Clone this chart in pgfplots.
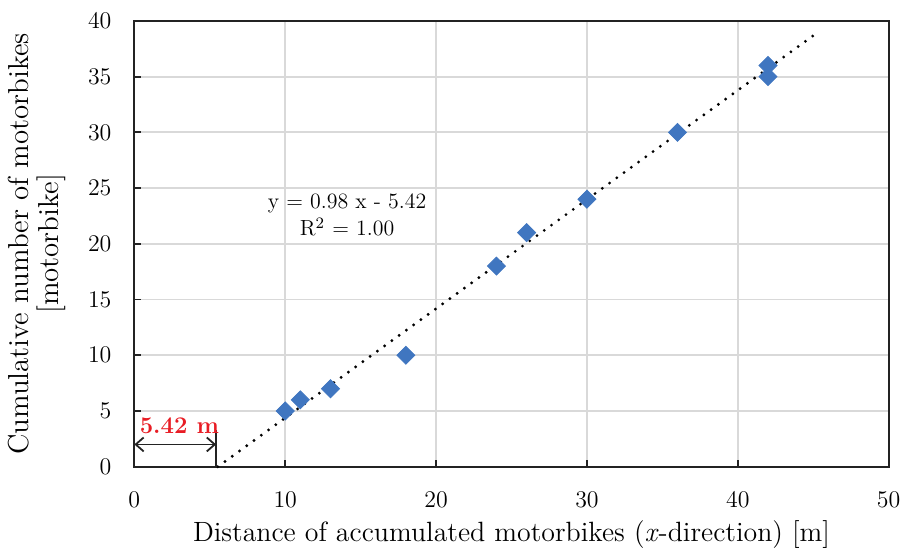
\documentclass[border=0pt]{standalone}
\usepackage{pgfplots}
\pgfplotsset{compat=1.18}
\usetikzlibrary{arrows.meta}
\definecolor{mblue}{RGB}{64,118,192}
\definecolor{gridgray}{RGB}{217,217,217}
\definecolor{fred}{RGB}{232,28,36}
\definecolor{axgray}{RGB}{35,35,35}
\begin{document}
\begin{tikzpicture}
\begin{axis}[
  scale only axis, width=379pt, height=224pt,
  xmin=0, xmax=50, ymin=0, ymax=40,
  xtick={0,10,...,50}, ytick={0,5,...,40},
  grid=major, major grid style={gridgray, line width=0.9pt},
  axis line style={axgray, line width=1pt},
  tick style={axgray, line width=0.9pt}, tick align=inside, major tick length=3.5pt,
  xtick pos=left, ytick pos=left,
  tick label style={font=\fontsize{11.5}{13}\selectfont},
  xticklabel style={yshift=-9pt},
  yticklabel style={xshift=-8pt},
  xlabel={Distance of accumulated motorbikes (\textit{x}-direction) [m]},
  ylabel={Cumulative number of motorbikes\\ {[}motorbike{]}},
  ylabel style={align=center, font=\fontsize{14.5}{15}\selectfont, at={(axis description cs:-0.129,0.5)}, anchor=center},
  xlabel style={font=\fontsize{14}{16}\selectfont, at={(axis description cs:0.5,-0.152)}, anchor=center},
  clip=false,
]
\addplot[black, line width=1.6pt, line cap=round, dash pattern=on 0pt off 4.5pt] coordinates {(5.53,0) (45,38.68)};
\addplot[only marks, mark=square*, mark size=3.2pt, mark options={rotate=45, fill=mblue, draw=mblue}] coordinates {
(10,5) (11,6) (13,7) (18,10) (24,18) (26,21) (30,24) (36,30) (42,35) (42,36)};
\node[font=\fontsize{11}{14}\selectfont, align=center] at (axis cs:14.1,22.6) {y = 0.98 x - 5.42\\ R$^2$ = 1.00};
\draw[axgray, line width=0.9pt] (axis cs:5.42,0) -- (axis cs:5.42,3.3);
\draw[axgray, line width=0.9pt, {Straight Barb[length=4pt,width=7pt]}-{Straight Barb[length=4pt,width=7pt]}] (axis cs:0,2) -- (axis cs:5.42,2);
\node[text=fred, font=\fontsize{12}{14}\selectfont\bfseries, anchor=south west, inner sep=1pt] at (axis cs:0.2,2.7) {5.42 m};
\path (rel axis cs:0,1) ++(-67.5pt,10.5pt) coordinate (tl);
\path (rel axis cs:1,0) ++(5.5pt,-38.5pt) coordinate (br);
\path (tl) (br);
\end{axis}
\end{tikzpicture}
\end{document}
